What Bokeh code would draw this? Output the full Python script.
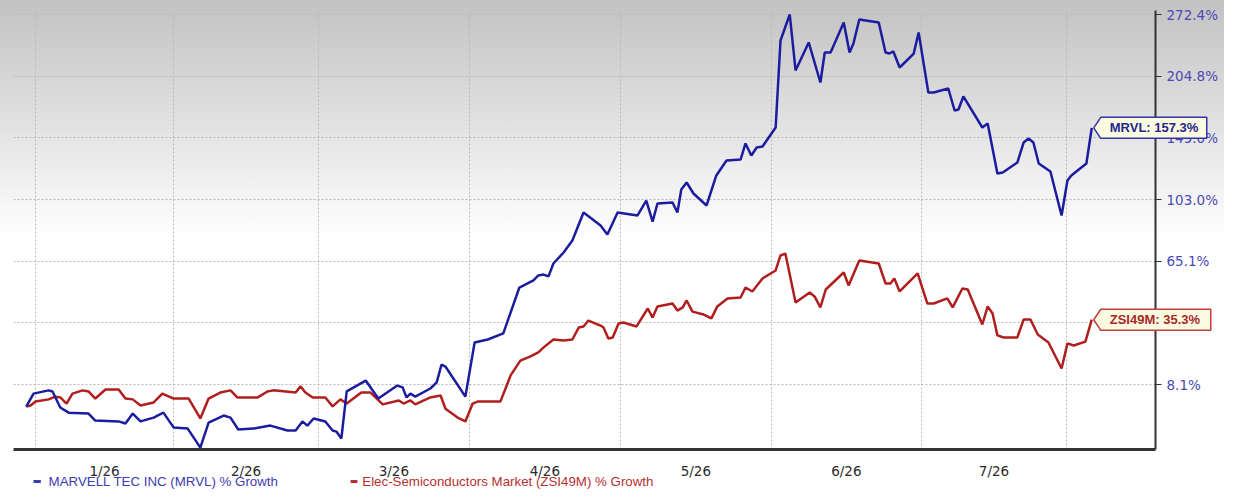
import numpy as np
from bokeh.plotting import figure
from bokeh.models import Range1d, FixedTicker, CustomJSTickFormatter
from bokeh.core.properties import value
from bokeh.embed import file_html
from bokeh.resources import INLINE

# ---- data (day offset from the first month boundary, % growth) ----
mrvl_day = [-1.9, -0.4, 2.7, 3.5, 5.1, 6.8, 10.9, 12.3, 17.1, 18.5,
            20.0, 21.6, 24.3, 26.3, 28.4, 31.3, 33.9, 35.6, 38.7, 40.1,
            41.7, 44.8, 48.3, 51.8, 53.5, 54.9, 55.9, 57.2, 59.6, 61.1,
            61.9, 62.9, 64.0, 67.9, 70.5, 74.4, 75.5, 76.3, 77.1, 78.1,
            81.2, 82.5, 83.5, 84.3, 88.4, 90.3, 93.0, 96.2, 99.5, 102.4,
            103.4, 104.5, 105.5, 106.5, 108.6, 110.4, 112.7, 116.2, 117.6, 119.7,
            123.8, 125.6, 126.9, 127.9, 131.0, 132.0, 132.8, 133.9, 135.3, 138.0,
            140.0, 142.1, 145.0, 146.0, 147.2, 148.3, 149.5, 152.2, 153.2, 155.1,
            156.3, 159.0, 161.4, 162.3, 163.5, 166.2, 167.4, 168.2, 169.4, 173.4,
            174.8, 175.6, 176.4, 177.7, 180.6, 181.6, 183.6, 184.7, 187.7, 189.0,
            189.8, 190.8, 194.7, 195.8, 197.8, 198.9, 201.9, 203.2, 204.2, 205.2,
            206.3, 208.7, 211.0, 212.2, 213.0, 216.1, 217.2]
mrvl_pct = [0.0, 4.7, 5.9, 5.5, -0.3, -2.1, -2.4, -4.8, -5.1, -5.8,
            -2.4, -5.1, -3.8, -2.1, -7.1, -7.5, -13.6, -5.5, -3.1, -3.8,
            -7.8, -7.5, -6.5, -8.1, -8.1, -5.1, -6.5, -4.1, -5.1, -8.1,
            -8.5, -10.7, 5.5, 9.6, 2.9, 7.7, 7.0, 3.3, 4.7, 3.6,
            6.6, 8.9, 15.9, 15.1, 3.6, 25.1, 26.4, 29.1, 51.0, 54.7,
            57.3, 57.8, 56.8, 63.8, 70.0, 77.0, 94.4, 86.1, 80.6, 94.4,
            92.5, 102.3, 88.6, 100.3, 101.0, 94.4, 109.9, 114.8, 107.1, 99.0,
            119.9, 131.1, 131.8, 144.4, 134.9, 141.2, 142.0, 157.6, 242.3, 272.4,
            210.5, 240.1, 198.5, 229.2, 229.2, 262.9, 229.2, 239.0, 266.5, 262.9,
            229.2, 228.1, 230.3, 213.5, 228.1, 251.3, 188.9, 188.9, 192.7, 172.4,
            173.3, 185.2, 157.6, 161.0, 121.3, 122.1, 129.5, 145.2, 148.4, 145.2,
            128.8, 122.8, 92.5, 116.2, 119.9, 128.8, 157.3]

zsi_day = [-1.9, -1.0, 0.0, 2.7, 4.1, 5.1, 6.4, 7.6, 9.7, 10.9,
           12.3, 14.4, 17.1, 18.5, 20.0, 21.6, 24.3, 26.1, 28.4, 31.5,
           33.9, 35.6, 38.0, 40.1, 41.5, 45.7, 47.7, 48.9, 53.5, 54.5,
           55.5, 57.0, 59.6, 61.1, 62.7, 64.0, 67.0, 68.9, 71.4, 74.7,
           75.7, 77.1, 78.1, 81.2, 83.3, 84.3, 86.8, 88.4, 89.9, 90.9,
           95.6, 97.7, 99.7, 101.8, 103.4, 104.5, 106.5, 108.6, 110.4, 111.7,
           112.7, 113.7, 116.2, 116.8, 117.8, 118.7, 119.9, 120.9, 123.6, 125.9,
           126.9, 127.9, 131.0, 132.0, 133.1, 133.9, 135.1, 137.4, 139.0, 140.2,
           142.3, 145.0, 146.0, 147.4, 149.5, 152.2, 153.2, 154.2, 156.3, 159.2,
           160.2, 161.4, 162.5, 166.2, 167.2, 169.4, 173.4, 174.8, 175.8, 176.6,
           177.7, 181.4, 183.4, 184.7, 187.5, 188.6, 190.6, 191.7, 194.7, 195.8,
           196.8, 197.8, 199.1, 201.9, 203.2, 204.6, 206.1, 208.3, 211.0, 212.2,
           213.5, 215.9, 217.2]
zsi_pct = [0.0, 0.4, 1.8, 2.6, 3.6, 3.3, 1.1, 4.7, 5.9, 5.5,
           2.9, 6.2, 6.2, 2.9, 2.6, 0.4, 1.5, 4.7, 2.9, 2.9,
           -4.1, 2.9, 5.1, 5.9, 3.3, 3.3, 5.5, 5.9, 5.1, 7.4,
           5.1, 3.3, 3.3, 0.1, 2.6, 1.1, 5.1, 5.1, 0.8, 2.2,
           1.1, 2.2, 0.8, 3.3, 4.0, -0.7, -3.8, -5.1, 1.1, 1.8,
           1.8, 11.6, 17.5, 19.2, 20.9, 23.0, 26.4, 26.0, 26.4, 31.7,
           32.2, 34.9, 32.6, 31.7, 26.8, 27.3, 33.6, 34.0, 32.2, 40.6,
           36.3, 41.6, 43.0, 39.6, 41.1, 44.5, 39.1, 37.7, 35.9, 41.6,
           45.5, 46.0, 51.0, 49.0, 55.7, 60.0, 68.3, 69.4, 43.5, 48.5,
           46.5, 41.1, 50.0, 58.9, 52.1, 65.5, 63.8, 53.1, 53.1, 55.7,
           49.0, 58.4, 43.0, 43.0, 45.5, 41.1, 50.5, 50.0, 33.1, 41.6,
           38.2, 28.2, 27.3, 27.3, 35.4, 35.4, 28.6, 25.1, 14.3, 24.7,
           23.8, 25.5, 35.3]

month_labels = ["1/26", "2/26", "3/26", "4/26", "5/26", "6/26", "7/26"]
month_bounds = [0.0, 28.4, 58.2, 89.2, 120.3, 151.3, 182.2, 212.0]
y_ticks = [8.1, 33.9, 65.1, 103.0, 149.0, 204.8, 272.4]
series_names = ["MARVELL TEC INC (MRVL) % Growth",
                "Elec-Semiconductors Market (ZSI49M) % Growth"]
callout_names = ["MRVL", "ZSI49M"]

OFF = 112.79  # offset of the chart's log scale

def tr(v):
    return np.log(np.asarray(v, dtype=float) + OFF)

BLUE = "#1c1ca0"
RED = "#b01e1e"
LEG_BLUE = "#3c3cb0"
LEG_RED = "#b53030"

BL, BR, BT, BB = 13, 69, 10, 40
FW, FH = 1142, 439
W, H = BL + FW + BR, BT + FH + BB
X0, X1 = -4.52, 230.31
Y0, Y1 = 4.5913, 5.9663
DX = (X1 - X0) / FW
DY = (Y1 - Y0) / FH

p = figure(width=W, height=H,
           x_range=Range1d(X0, X1), y_range=Range1d(Y0, Y1),
           output_backend="svg", toolbar_location=None,
           y_axis_location="right",
           min_border_left=BL, min_border_top=BT,
           min_border_right=BR, min_border_bottom=BB)
p.background_fill_color = None
p.border_fill_color = None
p.outline_line_color = None
p.styles = {"background": "linear-gradient(to bottom, #c2c2c2 0px, #ffffff 240px, #ffffff 100%)"}

mids = [(a + b) / 2 for a, b in zip(month_bounds[:-1], month_bounds[1:])]
xa = p.xaxis[0]
xa.ticker = FixedTicker(ticks=mids)
xa.formatter = CustomJSTickFormatter(args=dict(labels=month_labels),
                                     code="return labels[index];")
xa.major_tick_line_color = None
xa.minor_tick_line_color = None
xa.axis_line_color = "#333333"
xa.axis_line_width = 3
xa.major_label_standoff = 7
xa.major_label_text_font = "DejaVu Sans"
xa.major_label_text_font_size = "13.5px"
xa.major_label_text_color = "#2a2a2a"

p.xgrid.ticker = FixedTicker(ticks=month_bounds)
for g in (p.xgrid, p.ygrid):
    g.grid_line_color = "#b8b8b8"
    g.grid_line_dash = "2 2"
    g.grid_line_width = 1

ya = p.yaxis[0]
ya.ticker = FixedTicker(ticks=[float(t) for t in tr(y_ticks)])
ya.formatter = CustomJSTickFormatter(args=dict(off=OFF),
                                     code="return (Math.exp(tick) - off).toFixed(1) + '%';")
ya.minor_tick_line_color = None
ya.major_tick_in = 0
ya.major_tick_out = 6
ya.major_tick_line_color = "#333333"
ya.axis_line_color = "#333333"
ya.axis_line_width = 2
ya.major_label_standoff = 5
ya.major_label_text_font = "DejaVu Sans"
ya.major_label_text_font_size = "13.5px"
ya.major_label_text_color = "#4a4ab4"

p.line(zsi_day, tr(zsi_pct), line_color=RED, line_width=2.5)
p.line(mrvl_day, tr(mrvl_pct), line_color=BLUE, line_width=2.5)

FONT = value("Liberation Sans")

def callout(xs, ys, name, border, txtcol, box_w):
    xl = xs[-1]
    yl = float(tr([ys[-1]])[0])
    h = 10.5
    tip, corner = 2, 9
    right = corner + box_w
    bx = [xl + tip * DX, xl + corner * DX, xl + right * DX, xl + right * DX, xl + corner * DX]
    by = [yl, yl + h * DY, yl + h * DY, yl - h * DY, yl - h * DY]
    p.patch(bx, by, fill_color="#fbfbe2", line_color=border, line_width=1.5,
            level="overlay")
    p.text(x=[xl + (corner + 9) * DX], y=[yl], text=[f"{name}: {ys[-1]:.1f}%"],
           text_font=FONT, text_font_style="bold", text_font_size="13px",
           text_color=txtcol, text_baseline="middle", text_align="left",
           level="overlay")

callout(mrvl_day, mrvl_pct, callout_names[0], "#3535a5", "#26268a", 106)
callout(zsi_day, zsi_pct, callout_names[1], "#c04040", "#a82828", 110)

# legend row under the axis labels
LY = Y0 - 32 * DY
p.segment(x0=[-0.4, 64.8], y0=[LY, LY], x1=[1.1, 66.2], y1=[LY, LY],
          line_color=[LEG_BLUE, LEG_RED], line_width=3, level="overlay")
p.text(x=[2.7, 67.2], y=[LY, LY], text=series_names, text_font=FONT,
       text_font_size="13.3px", text_color=[LEG_BLUE, LEG_RED],
       text_baseline="middle", level="overlay")

open("out.html", "w").write(file_html(p, INLINE))
